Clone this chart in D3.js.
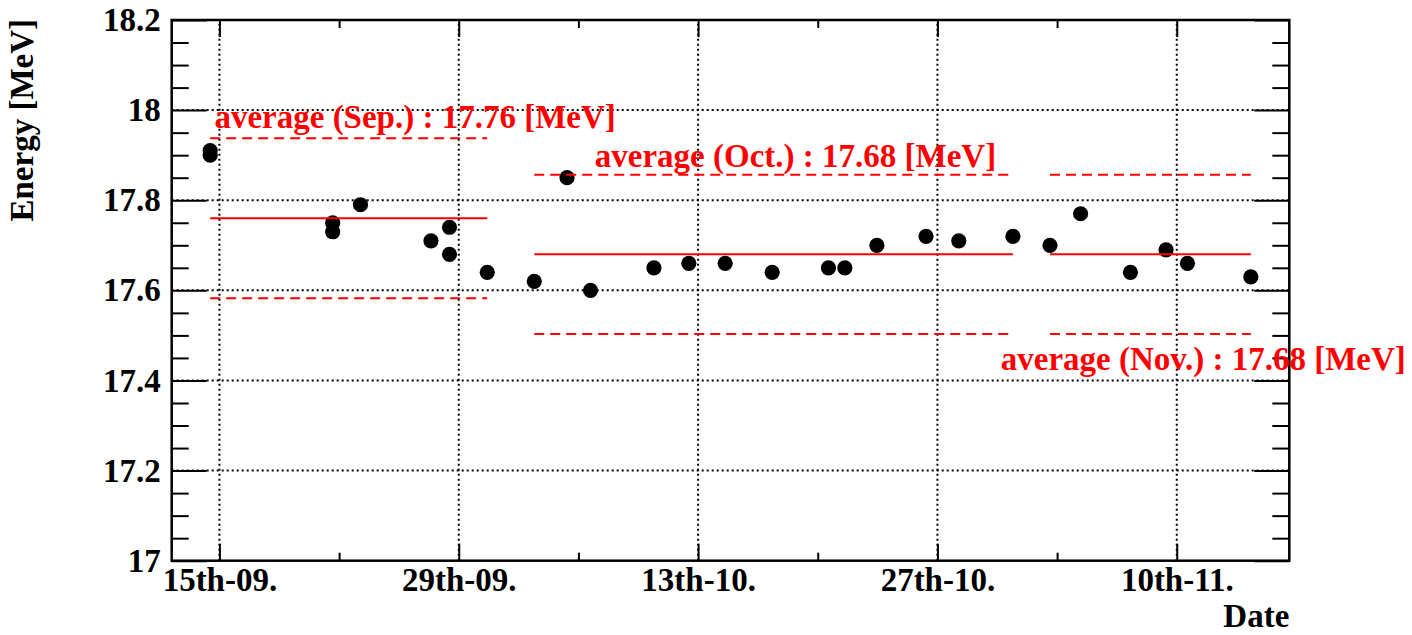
<!DOCTYPE html>
<html>
<head>
<meta charset="utf-8">
<script src="https://cdn.jsdelivr.net/npm/d3@7"></script>
<style>
  html, body { margin: 0; padding: 0; background: #fff; }
  svg { display: block; }
  text { font-family: "Liberation Serif", "Times New Roman", serif; font-weight: bold; }
</style>
</head>
<body>
<svg id="chart" width="1412" height="635"></svg>
<script>
// Beam energy measurements (one entry per run)
const runDates = [
  "2009-09-14T11", "2009-09-14T11", "2009-09-21T15", "2009-09-21T15", "2009-09-23T06",
  "2009-09-27T09", "2009-09-28T11", "2009-09-28T11", "2009-09-30T16",
  "2009-10-03T10", "2009-10-05T08", "2009-10-06T17", "2009-10-10T10", "2009-10-12T11",
  "2009-10-14T14", "2009-10-17T08", "2009-10-20T15", "2009-10-21T14", "2009-10-23T11",
  "2009-10-26T08", "2009-10-28T06", "2009-10-31T10",
  "2009-11-02T14", "2009-11-04T09", "2009-11-07T07", "2009-11-09T09", "2009-11-10T15",
  "2009-11-14T08"
];
const energies = [
  17.91, 17.90, 17.75, 17.73, 17.79,
  17.71, 17.74, 17.68, 17.64,
  17.62, 17.85, 17.60, 17.65, 17.66,
  17.66, 17.64, 17.65, 17.65, 17.70,
  17.72, 17.71, 17.72,
  17.70, 17.77, 17.64, 17.69, 17.66,
  17.63
];

// Monthly averages and the +/- 1 % band around them
const months = ["Sep.", "Oct.", "Nov."];
const monthIndex = [8, 9, 10];
const averages = [17.76, 17.68, 17.68];
const bandFraction = 0.01;

// Date axis ticks
const majorTickDates = ["2009-09-15", "2009-09-29", "2009-10-13", "2009-10-27", "2009-11-10"];
const majorTickLabels = ["15th-09.", "29th-09.", "13th-10.", "27th-10.", "10th-11."];
const minorTickDates = ["2009-09-22", "2009-10-06", "2009-10-20", "2009-11-03"];

// Energy axis ticks
const yMajorTicks = [17, 17.2, 17.4, 17.6, 17.8, 18, 18.2];
const yMinorTicks = [17.05, 17.1, 17.15, 17.25, 17.3, 17.35, 17.45, 17.5, 17.55,
                     17.65, 17.7, 17.75, 17.85, 17.9, 17.95, 18.05, 18.1, 18.15];

// Where each average label is anchored (date, energy)
const labelAnchors = [
  ["2009-09-14T17", 17.96],
  ["2009-10-06T23", 17.874],
  ["2009-10-30T17", 17.423]
];

const parseRun = d3.utcParse("%Y-%m-%dT%H");
const parseDay = d3.utcParse("%Y-%m-%d");

const runs = runDates.map((d, i) => ({ date: parseRun(d), energy: energies[i] }));

const svg = d3.select("#chart");
const frame = { left: 171.7, right: 1289.3, top: 20, bottom: 560.7 };

const x = d3.scaleUtc()
  .domain([parseRun("2009-09-12T05"), parseRun("2009-11-16T14")])
  .range([frame.left, frame.right]);
const y = d3.scaleLinear()
  .domain([17, 18.2])
  .range([frame.bottom, frame.top]);

const majorDates = majorTickDates.map(parseDay);
const minorDates = minorTickDates.map(parseDay);

// Dotted grid
const grid = svg.append("g")
  .attr("stroke", "#000")
  .attr("stroke-width", 2)
  .attr("stroke-dasharray", "2 3");
grid.selectAll("line.v").data(majorDates).join("line")
  .attr("class", "v")
  .attr("x1", d => x(d)).attr("x2", d => x(d))
  .attr("y1", frame.bottom).attr("y2", frame.top);
grid.selectAll("line.h").data(yMajorTicks.filter(v => v > 17 && v < 18.2)).join("line")
  .attr("class", "h")
  .attr("x1", frame.left).attr("x2", frame.right)
  .attr("y1", d => y(d)).attr("y2", d => y(d));

// Measurements
svg.append("g").selectAll("circle").data(runs).join("circle")
  .attr("cx", d => x(d.date))
  .attr("cy", d => y(d.energy))
  .attr("r", 7.6)
  .attr("fill", "#000");

// Monthly average lines with the band
const monthly = months.map((m, i) => {
  const sub = runs.filter(r => r.date.getUTCMonth() === monthIndex[i]);
  return {
    name: m,
    avg: averages[i],
    x0: d3.min(sub, r => r.date),
    x1: d3.max(sub, r => r.date)
  };
});

const avgG = svg.append("g").attr("stroke", "#ff0000").attr("stroke-width", 2);
monthly.forEach(m => {
  avgG.append("line")
    .attr("x1", x(m.x0)).attr("x2", x(m.x1))
    .attr("y1", y(m.avg)).attr("y2", y(m.avg));
  [1 + bandFraction, 1 - bandFraction].forEach(f => {
    avgG.append("line")
      .attr("x1", x(m.x0)).attr("x2", x(m.x1))
      .attr("y1", y(m.avg * f)).attr("y2", y(m.avg * f))
      .attr("stroke-dasharray", "10 6");
  });
});

// Axes (ticks point inward, frame drawn separately)
function styleAxis(g) {
  g.attr("font-size", 33).attr("font-family", null);
  g.select(".domain").remove();
  g.selectAll(".tick line").attr("stroke", "#000").attr("stroke-width", 2);
  g.selectAll(".tick text").attr("fill", "#000");
}

svg.append("g")
  .attr("transform", `translate(${frame.left},0)`)
  .call(d3.axisLeft(y).tickValues(yMajorTicks).tickSize(-35).tickSizeOuter(0)
    .tickPadding(11).tickFormat(d => String(+d.toFixed(1))))
  .call(styleAxis);
svg.append("g")
  .attr("transform", `translate(${frame.left},0)`)
  .call(d3.axisLeft(y).tickValues(yMinorTicks).tickSize(-17).tickSizeOuter(0).tickFormat(""))
  .call(styleAxis);
svg.append("g")
  .attr("transform", `translate(${frame.right},0)`)
  .call(d3.axisRight(y).tickValues(yMajorTicks).tickSize(-35).tickSizeOuter(0).tickFormat(""))
  .call(styleAxis);
svg.append("g")
  .attr("transform", `translate(${frame.right},0)`)
  .call(d3.axisRight(y).tickValues(yMinorTicks).tickSize(-17).tickSizeOuter(0).tickFormat(""))
  .call(styleAxis);

const xBottom = svg.append("g")
  .attr("transform", `translate(0,${frame.bottom})`)
  .call(d3.axisBottom(x).tickValues(majorDates).tickSize(-17).tickSizeOuter(0)
    .tickFormat((d, i) => majorTickLabels[i]))
  .call(styleAxis);
xBottom.selectAll(".tick text").attr("y", 30).attr("dy", 0);
svg.append("g")
  .attr("transform", `translate(0,${frame.bottom})`)
  .call(d3.axisBottom(x).tickValues(minorDates).tickSize(-8).tickSizeOuter(0).tickFormat(""))
  .call(styleAxis);
svg.append("g")
  .attr("transform", `translate(0,${frame.top})`)
  .call(d3.axisTop(x).tickValues(majorDates).tickSize(-17).tickSizeOuter(0).tickFormat(""))
  .call(styleAxis);
svg.append("g")
  .attr("transform", `translate(0,${frame.top})`)
  .call(d3.axisTop(x).tickValues(minorDates).tickSize(-8).tickSizeOuter(0).tickFormat(""))
  .call(styleAxis);

// Frame
svg.append("rect")
  .attr("x", frame.left).attr("y", frame.top)
  .attr("width", frame.right - frame.left)
  .attr("height", frame.bottom - frame.top)
  .attr("fill", "none").attr("stroke", "#000").attr("stroke-width", 2.5);

// Axis titles
svg.append("text")
  .attr("x", frame.right).attr("y", 627)
  .attr("text-anchor", "end")
  .attr("font-size", 33)
  .text("Date");
svg.append("text")
  .attr("transform", `translate(33,${frame.top - 1}) rotate(-90)`)
  .attr("text-anchor", "end")
  .attr("font-size", 33)
  .text("Energy [MeV]");

// Average labels
svg.append("g").selectAll("text").data(monthly).join("text")
  .attr("x", (d, i) => x(parseRun(labelAnchors[i][0])))
  .attr("y", (d, i) => y(labelAnchors[i][1]))
  .attr("fill", "#ff0000")
  .attr("font-size", 33)
  .text(d => `average (${d.name}) : ${d.avg.toFixed(2)} [MeV]`);
</script>
</body>
</html>
